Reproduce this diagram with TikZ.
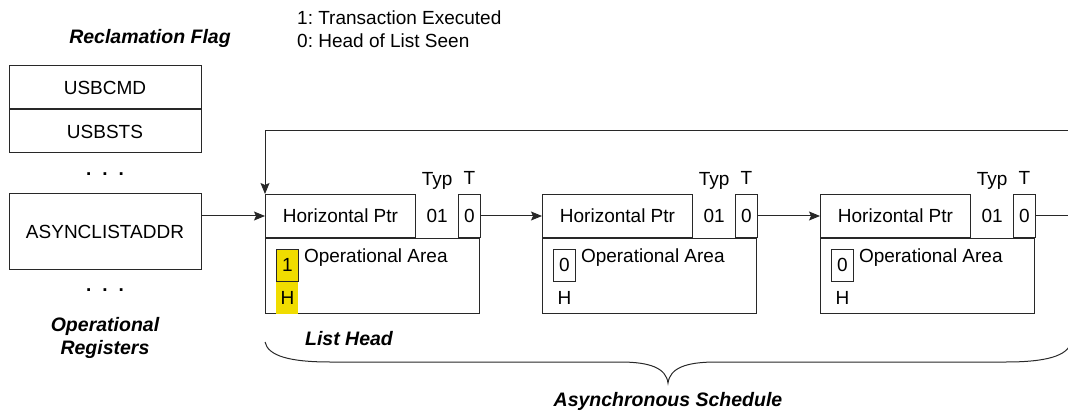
\documentclass[tikz,border=0pt]{standalone}
\usepackage{fontspec}
\setmainfont{Liberation Sans}
\usepackage{xcolor}
\usepackage{tikz}
\usetikzlibrary{arrows.meta, positioning}
\definecolor{flagyellow}{RGB}{240,220,0}
\definecolor{linegray}{RGB}{40,40,40}
\frenchspacing

\begin{document}
\begin{tikzpicture}[
  x=1pt, y=-1pt,
  font=\fontsize{19}{23}\selectfont,
  reg/.style={draw=linegray, line width=1pt, minimum width=192pt, inner sep=0pt},
  ptr/.style={draw=linegray, line width=1pt, minimum width=150pt, minimum height=43pt, inner sep=0pt},
  tbit/.style={draw=linegray, line width=1pt, minimum width=22pt, minimum height=43pt, inner sep=0pt},
  area/.style={draw=linegray, line width=1pt, minimum width=214pt, minimum height=75pt, inner sep=0pt},
  flag/.style={draw=linegray, line width=0.8pt, minimum width=22pt, minimum height=32pt, inner sep=0pt},
  bitlabel/.style={inner sep=0pt, text depth=4pt},
  heading/.style={font=\fontsize{19.5}{23}\selectfont\bfseries\itshape, align=center},
  arrow/.style={-{Stealth[length=11pt, width=9pt, inset=2pt]}, draw=linegray, line width=1pt},
  line/.style={draw=linegray, line width=1pt}
]
\useasboundingbox (0,0) rectangle (1068,414);

% operational registers
\node[heading] (reclaim) at (150,38) {Reclamation Flag};
\node[reg, minimum height=43pt] (usbcmd) at (105,87.5) {USBCMD};
\node[reg, minimum height=43pt, below=0pt of usbcmd] (usbsts) {USBSTS};
\node[anchor=base, font=\fontsize{19}{23}\selectfont\bfseries] (dots1) at (105,176) {.\hspace{11pt}.\hspace{11pt}.};
\node[reg, minimum height=75pt] (async) at (105,231.5) {ASYNCLISTADDR};
\node[anchor=base, font=\fontsize{19}{23}\selectfont\bfseries] (dots2) at (105,291) {.\hspace{11pt}.\hspace{11pt}.};
\node[heading] (opregs) at (105,338) {Operational\\Registers};

% legend
\node[anchor=west, inner sep=0pt] (legend1) at (297,18) {1: Transaction Executed};
\node[anchor=west, inner sep=0pt] (legend0) at (297,41) {0: Head of List Seen};

% queue heads
\foreach \i/\x/\f/\hl in {1/265/1/flagyellow, 2/542/0/none, 3/820/0/none} {
  \node[ptr, anchor=north west] (ptr\i) at (\x,194) {Horizontal Ptr};
  \node[right=0pt of ptr\i, minimum width=42pt, minimum height=43pt, inner sep=0pt] (typ\i) {01};
  \node[tbit, right=42pt of ptr\i] (t\i) {0};
  \node[bitlabel, above=5pt of typ\i] (typlbl\i) {Typ};
  \node[bitlabel, above=5pt of t\i] (tlbl\i) {T};
  \node[area, anchor=north west] (area\i) at (ptr\i.south west) {};
  \node[flag, fill=\hl, anchor=north west] (flag\i) at ([shift={(11,11)}]area\i.north west) {\f};
  \node[below=0pt of flag\i, minimum width=22pt, minimum height=31.5pt, inner sep=0pt, fill=\hl] (h\i) {H};
  \node[anchor=north west, inner sep=0pt] (op\i) at ([xshift=5pt]flag\i.north east) {Operational Area};
}

% links
\coordinate (loopout) at (1068,216);
\coordinate (loopin) at (1068,131);
\draw[arrow] (async.east |- ptr1.west) -- (ptr1.west);
\draw[arrow] (t1) -- (ptr2);
\draw[arrow] (t2) -- (ptr3);
\draw[line] (t3) -- (loopout);
\draw[arrow] (loopin) -| (ptr1.north west);

% brace
\draw[line] (265,342) .. controls (268,356) and (290,362) .. (330,362) -- (620,362)
  .. controls (650,362) and (666,368) .. (668,383)
  .. controls (670,368) and (686,362) .. (716,362) -- (1006,362)
  .. controls (1046,362) and (1068,356) .. (1071,342);
\node[heading] (listhead) at (349,339) {List Head};
\node[heading] (asched) at (668,401) {Asynchronous Schedule};
\end{tikzpicture}
\end{document}
